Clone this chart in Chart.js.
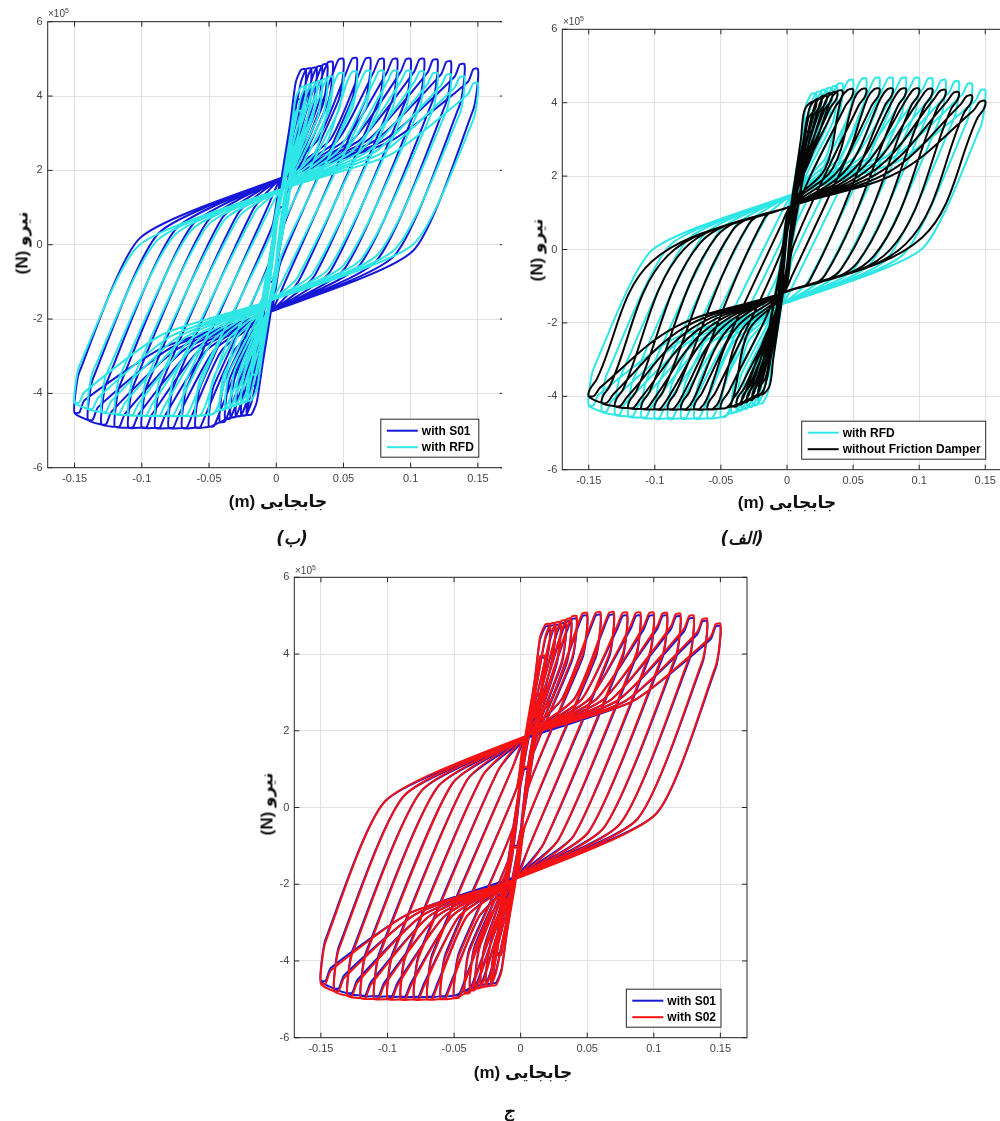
<!DOCTYPE html>
<html>
<head>
<meta charset="utf-8">
<script src="https://cdn.jsdelivr.net/npm/chart.js@4.4.1/dist/chart.umd.min.js"></script>
<style>
html, body { margin: 0; padding: 0; background: #fff; }
body { position: relative; width: 1000px; height: 1121px; overflow: hidden; }
.clip { position: absolute; overflow: hidden; }
.clip canvas { position: absolute; left: 0; top: 0; }
.xt, .yt { position: absolute; font: bold 17px "Liberation Sans", "DejaVu Sans", sans-serif; color: #111; white-space: nowrap; }
.xt { transform: translate(-50%, -50%); }
.yt { transform: translate(-50%, -50%) rotate(-90deg); }
.ex { position: absolute; font: 10px "Liberation Sans", sans-serif; color: #444; white-space: nowrap; }
.ex sup { font-size: 7px; vertical-align: 4px; }
.pl { position: absolute; font: italic bold 17px "DejaVu Sans", sans-serif; color: #111; transform: translate(-50%, -50%); white-space: nowrap; }
</style>
</head>
<body>

<div class="clip" style="left:0;top:0;width:502px;height:520px"><canvas id="panelB" width="520" height="500"></canvas></div>
<div class="clip" style="left:505px;top:0;width:495px;height:520px"><canvas id="panelA" width="530" height="500"></canvas></div>
<div class="clip" style="left:240px;top:560px;width:530px;height:510px"><canvas id="panelC" width="530" height="510"></canvas></div>

<div class="ex" style="left:48px;top:7px">×10<sup>5</sup></div>
<div class="ex" style="left:563px;top:15px">×10<sup>5</sup></div>
<div class="ex" style="left:295px;top:564px">×10<sup>5</sup></div>

<div class="yt" dir="rtl" style="left:22px;top:243px">نیرو (N)</div>
<div class="yt" dir="rtl" style="left:537px;top:250px">نیرو (N)</div>
<div class="yt" dir="rtl" style="left:267px;top:804px">نیرو (N)</div>

<div class="xt" dir="rtl" style="left:278px;top:501px">جابجایی (m)</div>
<div class="xt" dir="rtl" style="left:787px;top:502px">جابجایی (m)</div>
<div class="xt" dir="rtl" style="left:523px;top:1072px">جابجایی (m)</div>

<div class="pl" dir="rtl" style="left:292px;top:538px">(ب)</div>
<div class="pl" dir="rtl" style="left:742px;top:538px">(الف)</div>
<div class="pl" dir="rtl" style="left:509px;top:1111px">ج</div>

<script>
// axis ticks
const xTicks = [-0.15, -0.1, -0.05, 0, 0.05, 0.1, 0.15];
const xTickLabels = ['-0.15', '-0.1', '-0.05', '0', '0.05', '0.1', '0.15'];
const yTicks = [-6, -4, -2, 0, 2, 4, 6];
const yTickLabels = ['-6', '-4', '-2', '0', '2', '4', '6'];

// displacement amplitude of each cycle (m)
const cycleAmp = [0.006, 0.01, 0.014, 0.018, 0.022, 0.026, 0.03, 0.034, 0.038, 0.042,
    0.05, 0.06, 0.07, 0.08, 0.09, 0.10, 0.11, 0.12, 0.13, 0.14, 0.15];

// with S01 (force x1e5 N)
const s01PeakPos = [1.0, 1.9, 2.9, 3.9, 4.72, 4.74, 4.76, 4.80, 4.85, 4.92,
    5.00, 5.02, 5.02, 5.00, 5.00, 5.00, 5.00, 4.98, 4.93, 4.86, 4.73];
const s01PeakNeg = [-1.0, -1.9, -2.9, -3.8, -4.58, -4.60, -4.62, -4.65, -4.70, -4.78,
    -4.90, -4.92, -4.93, -4.93, -4.93, -4.92, -4.92, -4.90, -4.84, -4.72, -4.53];
const s01Knee = [null, null, null, null,
    [-0.009, -1.8], [-0.0085, -1.7], [-0.008, -1.6], [-0.0075, -1.5], [-0.007, -1.3], [-0.006, -1.05],
    [-0.005, -0.45], [-0.003, 0.5], [-0.0061, 1.04], [-0.0173, 0.94], [-0.0286, 0.83], [-0.040, 0.73],
    [-0.0512, 0.63], [-0.0627, 0.52], [-0.0748, 0.42], [-0.0877, 0.30], [-0.1016, 0.17]];
const s01Fan = [null, null, null, null,
    [0.0105, 3.3], [0.012, 3.2], [0.0135, 3.1], [0.015, 3.0], [0.0165, 2.95], [0.018, 2.9],
    [0.0235, 2.85], [0.031, 2.83], [0.0403, 2.83], [0.0458, 2.82], [0.0513, 2.82], [0.0568, 2.82],
    [0.0623, 2.82], [0.0678, 2.81], [0.0733, 2.80], [0.0788, 2.78], [0.0843, 2.77]];
const s01Pinch = [0.004, 1.8];
const s01Elastic = [[0.0005, 0.5], [0.0035, 1.1]];
const s01Cap = [[0.0075, 0.35], [0.0035, 0.01]];

// with S02
const s02PeakPos = [1.05, 1.95, 2.95, 3.95, 4.78, 4.80, 4.83, 4.87, 4.92, 4.99,
    5.07, 5.09, 5.09, 5.08, 5.08, 5.08, 5.07, 5.05, 5.00, 4.92, 4.79];
const s02PeakNeg = [-1.05, -1.95, -2.95, -3.85, -4.64, -4.66, -4.68, -4.72, -4.77, -4.85,
    -4.97, -4.99, -5.00, -5.00, -5.00, -4.99, -4.99, -4.97, -4.91, -4.79, -4.60];
const s02Pinch = [0.0035, 1.86];

// with RFD
const rfdPeakPos = [0.9, 1.7, 2.6, 3.6, 4.25, 4.30, 4.35, 4.40, 4.45, 4.52,
    4.62, 4.66, 4.68, 4.68, 4.68, 4.68, 4.66, 4.62, 4.58, 4.52, 4.35];
const rfdPeakNeg = [-0.9, -1.7, -2.6, -3.5, -4.20, -4.25, -4.30, -4.35, -4.40, -4.45,
    -4.57, -4.60, -4.60, -4.60, -4.60, -4.60, -4.58, -4.55, -4.50, -4.42, -4.26];
const rfdKnee = [null, null, null, null,
    [-0.009, -1.7], [-0.0085, -1.65], [-0.008, -1.6], [-0.0075, -1.55], [-0.007, -1.41], [-0.006, -1.09],
    [-0.005, -0.53], [-0.004, 0.26], [-0.0038, 1.03], [-0.0155, 0.90], [-0.0271, 0.78], [-0.0387, 0.66],
    [-0.0507, 0.53], [-0.0628, 0.40], [-0.0752, 0.27], [-0.0881, 0.13], [-0.1022, -0.02]];
const rfdFan = [null, null, null, null,
    [0.0105, 2.95], [0.012, 2.9], [0.0135, 2.85], [0.015, 2.8], [0.0165, 2.75], [0.018, 2.7],
    [0.0293, 2.5], [0.0348, 2.51], [0.0403, 2.52], [0.0458, 2.52], [0.0513, 2.52], [0.0568, 2.52],
    [0.0623, 2.51], [0.0678, 2.50], [0.0733, 2.49], [0.0788, 2.47], [0.0843, 2.41]];
const rfdPinch = [0.004, 1.5];
const rfdElastic = [[0.0005, 0.45], [0.0035, 1.0]];
const rfdCap = [[0.0075, 0.3], [0.0035, 0.01]];

// without friction damper
const nfdPeakPos = [0.8, 1.5, 2.3, 3.2, 4.02, 4.10, 4.18, 4.24, 4.28, 4.32,
    4.36, 4.37, 4.38, 4.38, 4.38, 4.38, 4.37, 4.34, 4.28, 4.19, 4.04];
const nfdPeakNeg = [-0.8, -1.5, -2.3, -3.1, -3.95, -4.02, -4.10, -4.16, -4.22, -4.28,
    -4.33, -4.35, -4.35, -4.35, -4.35, -4.35, -4.34, -4.32, -4.27, -4.18, -4.00];
const nfdKnee = [null, null, null, null,
    [-0.0095, -2.0], [-0.009, -1.9], [-0.0085, -1.8], [-0.008, -1.7], [-0.0075, -1.6], [-0.007, -1.5],
    [-0.006, -0.95], [-0.005, -0.12], [-0.004, 0.7], [-0.0168, 0.87], [-0.029, 0.69], [-0.0412, 0.52],
    [-0.0534, 0.35], [-0.0656, 0.18], [-0.0779, 0.01], [-0.0901, -0.16], [-0.1023, -0.33]];
const nfdFan = [null, null, null, null,
    [0.0105, 3.0], [0.012, 2.9], [0.0135, 2.8], [0.015, 2.7], [0.0165, 2.6], [0.018, 2.5],
    [0.0289, 2.2], [0.0344, 2.2], [0.0399, 2.2], [0.0454, 2.2], [0.0509, 2.2], [0.0564, 2.2],
    [0.0619, 2.2], [0.0674, 2.19], [0.0729, 2.17], [0.0784, 2.14], [0.0839, 2.1]];
const nfdPinch = [0.003, 1.18];
const nfdElastic = [[0.001, 0.2], [0.006, 0.46]];
const nfdCap = [[0.009, 0.25], [0.004, 0.01]];

// one full loop per cycle: push to +d, then back to -d (point symmetric shape)
function loopPoints(peakPos, peakNeg, knee, pinch, fan, elastic, cap) {
    const pts = [];
    cycleAmp.forEach((d, i) => {
        const fp = peakPos[i], fn = peakNeg[i];
        pts.push({ x: -d, y: fn });
        pts.push({ x: -d + elastic[0][0], y: fn + elastic[0][1] });
        if (knee[i]) {
            pts.push({ x: -d + elastic[1][0], y: fn + elastic[1][1] });
            pts.push({ x: knee[i][0], y: knee[i][1] });
            pts.push({ x: pinch[0], y: pinch[1] });
            pts.push({ x: fan[i][0], y: fan[i][1] });
            pts.push({ x: d - cap[0][0], y: fp - cap[0][1] });
        }
        pts.push({ x: d - cap[1][0], y: fp - cap[1][1] });
        pts.push({ x: d, y: fp });
        pts.push({ x: d - elastic[0][0], y: fp - elastic[0][1] });
        if (knee[i]) {
            pts.push({ x: d - elastic[1][0], y: fp - elastic[1][1] });
            pts.push({ x: -knee[i][0], y: -knee[i][1] });
            pts.push({ x: -pinch[0], y: -pinch[1] });
            pts.push({ x: -fan[i][0], y: -fan[i][1] });
            pts.push({ x: -d + cap[0][0], y: fn + cap[0][1] });
        }
        pts.push({ x: -d + cap[1][0], y: fn + cap[1][1] });
        pts.push({ x: -d, y: fn });
    });
    return pts;
}

const s01 = { points: loopPoints(s01PeakPos, s01PeakNeg, s01Knee, s01Pinch, s01Fan, s01Elastic, s01Cap), color: '#1717d8', tension: 0.2 };
const s02 = { points: loopPoints(s02PeakPos, s02PeakNeg, s01Knee, s02Pinch, s01Fan, s01Elastic, s01Cap), color: '#f51212', tension: 0.2 };
const rfd = { points: loopPoints(rfdPeakPos, rfdPeakNeg, rfdKnee, rfdPinch, rfdFan, rfdElastic, rfdCap), color: '#2fe6e6', tension: 0.2 };
const nfd = { points: loopPoints(nfdPeakPos, nfdPeakNeg, nfdKnee, nfdPinch, nfdFan, nfdElastic, nfdCap), color: '#050505', tension: 0.35 };

const tickFont = { family: '"Liberation Sans", Arial, sans-serif', size: 11 };
const tickColor = '#444';

// box, inward ticks and legend, MATLAB style
const frame = {
    id: 'frame',
    afterDatasetsDraw(chart, args, opts) {
        const { ctx, chartArea: a, scales: { x, y } } = chart;
        ctx.save();
        ctx.strokeStyle = '#262626';
        ctx.lineWidth = 1;
        ctx.strokeRect(a.left, a.top, a.right - a.left, a.bottom - a.top);
        ctx.beginPath();
        xTicks.forEach(v => {
            const px = x.getPixelForValue(v);
            ctx.moveTo(px, a.bottom); ctx.lineTo(px, a.bottom - 5);
            ctx.moveTo(px, a.top); ctx.lineTo(px, a.top + 5);
        });
        yTicks.forEach(v => {
            const py = y.getPixelForValue(v);
            ctx.moveTo(a.left, py); ctx.lineTo(a.left + 5, py);
            ctx.moveTo(a.right, py); ctx.lineTo(a.right - 5, py);
        });
        ctx.stroke();

        const items = opts.items || [];
        ctx.font = 'bold 12px "Liberation Sans", Arial, sans-serif';
        const tw = Math.max(...items.map(it => ctx.measureText(it.label).width));
        const w = 6 + 31 + 4 + tw + 5, h = 38;
        const x0 = a.right - 26 - w, y0 = a.bottom - 10.5 - h;
        ctx.fillStyle = '#fff';
        ctx.fillRect(x0, y0, w, h);
        ctx.strokeRect(x0, y0, w, h);
        items.forEach((it, r) => {
            const ry = y0 + 11.5 + r * 16.5;
            ctx.strokeStyle = it.color;
            ctx.lineWidth = 2;
            ctx.beginPath();
            ctx.moveTo(x0 + 6, ry); ctx.lineTo(x0 + 37, ry);
            ctx.stroke();
            ctx.fillStyle = '#000';
            ctx.textBaseline = 'middle';
            ctx.fillText(it.label, x0 + 41, ry + 0.5);
        });
        ctx.restore();
    }
};

function makePanel(id, area, series, legend) {
    const cv = document.getElementById(id);
    const W = cv.width, H = cv.height;
    new Chart(cv, {
        type: 'scatter',
        data: {
            datasets: series.map(s => ({
                data: s.points,
                borderColor: s.color,
                borderWidth: 2,
                showLine: true,
                pointRadius: 0,
                tension: s.tension,
                fill: false,
            })),
        },
        options: {
            responsive: false,
            animation: false,
            events: [],
            layout: { padding: { left: area.left - 30, top: area.top, right: W - area.right, bottom: H - area.bottom - 22 } },
            plugins: { legend: { display: false }, tooltip: { enabled: false }, frame: { items: legend } },
            scales: {
                x: {
                    type: 'linear', min: -0.17, max: 0.17,
                    afterBuildTicks: s => { s.ticks = xTicks.map(v => ({ value: v })); },
                    afterFit: s => { s.height = 22; },
                    ticks: { callback: (v, i) => xTickLabels[i], color: tickColor, font: tickFont, padding: 5, maxRotation: 0, autoSkip: false },
                    grid: { color: '#e2e2e2', drawTicks: false },
                    border: { display: false },
                },
                y: {
                    type: 'linear', min: -6, max: 6,
                    afterBuildTicks: s => { s.ticks = yTicks.map(v => ({ value: v })); },
                    afterFit: s => { s.width = 30; },
                    ticks: { callback: (v, i) => yTickLabels[i], color: tickColor, font: tickFont, padding: 5, autoSkip: false },
                    grid: { color: '#e2e2e2', drawTicks: false },
                    border: { display: false },
                },
            },
        },
        plugins: [frame],
    });
}

// top-most series first
makePanel('panelB', { left: 47.7, top: 21.7, right: 504.8, bottom: 467.7 }, [rfd, s01],
    [{ label: 'with S01', color: s01.color }, { label: 'with RFD', color: rfd.color }]);
makePanel('panelA', { left: 57.3, top: 29.3, right: 506.7, bottom: 469.7 }, [nfd, rfd],
    [{ label: 'with RFD', color: rfd.color }, { label: 'without Friction Damper', color: nfd.color }]);
makePanel('panelC', { left: 54.3, top: 17.3, right: 507, bottom: 477.7 }, [s02, s01],
    [{ label: 'with S01', color: s01.color }, { label: 'with S02', color: s02.color }]);
</script>
</body>
</html>
